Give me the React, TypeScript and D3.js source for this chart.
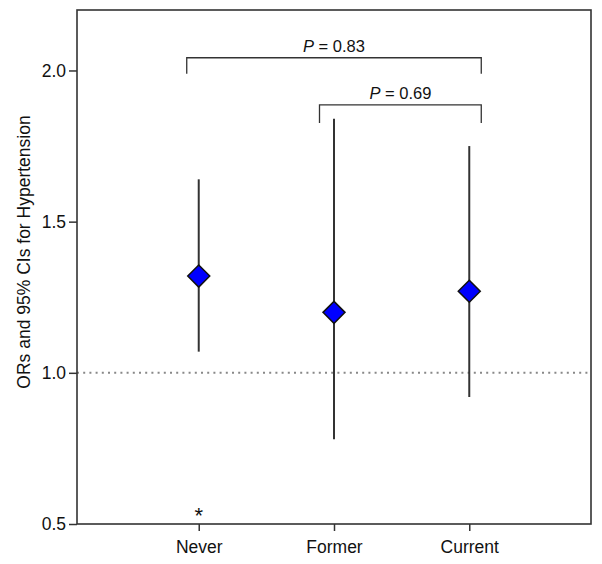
import React, { useEffect, useRef } from "react"
import * as d3 from "d3"

const categories = ["Never", "Former", "Current"]
const oddsRatios = [1.32, 1.2, 1.27]
const ciLow = [1.07, 0.78, 0.92]
const ciHigh = [1.64, 1.84, 1.75]
const yTicks = [0.5, 1.0, 1.5, 2.0]
const significant = [true, false, false]

// comparison brackets: from category, to category, level on y, label
const brackets = [
  { from: 0, to: 2, level: 2.042, p: "0.83", drop: 16 },
  { from: 1, to: 2, level: 1.886, p: "0.69", drop: 18 }
]

const W = 602
const H = 564
const margin = { top: 10, right: 11, bottom: 40, left: 77 }
const font = "'Liberation Sans', Arial, Helvetica, sans-serif"
const ink = "#333"

export default function App() {
  const xAxisRef = useRef<SVGGElement>(null)
  const yAxisRef = useRef<SVGGElement>(null)

  const x = d3.scaleLinear().domain([0.1, 3.9]).range([margin.left, W - margin.right])
  const y = d3.scaleLinear().domain([0.5, 2.2]).range([H - margin.bottom, margin.top])
  const xi = (i: number) => x(i + 1)

  useEffect(() => {
    const xa = d3.select(xAxisRef.current!)
    xa.call(
      d3.axisBottom(x)
        .tickValues([1, 2, 3])
        .tickFormat((d) => categories[(d as number) - 1])
        .tickSize(7)
        .tickPadding(10)
    )
    xa.select(".domain").remove()
    xa.selectAll(".tick line").attr("stroke", ink).attr("stroke-width", 1.5)
    xa.selectAll(".tick text").attr("font-size", 17.5).attr("font-family", font).attr("fill", "#111")

    const ya = d3.select(yAxisRef.current!)
    ya.call(d3.axisLeft(y).tickValues(yTicks).tickFormat(d3.format(".1f")).tickSize(8).tickPadding(3))
    ya.select(".domain").remove()
    ya.selectAll(".tick line").attr("stroke", ink).attr("stroke-width", 1.5)
    ya.selectAll(".tick text").attr("font-size", 17.5).attr("font-family", font).attr("fill", "#111")
  }, [])

  const d = 11
  return (
    <svg width={W} height={H} style={{ position: "absolute", left: 0, top: 0, background: "#fff" }}>
      <line
        x1={x(0.1)} x2={x(3.9)} y1={y(1)} y2={y(1)}
        stroke="#888" strokeWidth={2} strokeDasharray="2,4.2"
      />
      {categories.map((c, i) => (
        <g key={c}>
          <line x1={xi(i)} x2={xi(i)} y1={y(ciLow[i])} y2={y(ciHigh[i])} stroke={ink} strokeWidth={2} />
          <path
            d={`M${xi(i)},${y(oddsRatios[i]) - d}L${xi(i) + d},${y(oddsRatios[i])}L${xi(i)},${y(oddsRatios[i]) + d}L${xi(i) - d},${y(oddsRatios[i])}Z`}
            fill="#0000ff" stroke="#111" strokeWidth={1.5}
          />
          {significant[i] && (
            <text x={xi(i)} y={y(0.5) - 1} textAnchor="middle" fontSize={22} fontFamily={font} fill="#111">*</text>
          )}
        </g>
      ))}
      {brackets.map((b, k) => {
        const x1 = xi(b.from) - (b.from === 0 ? 12 : 14.5)
        const x2 = xi(b.to) + 12
        const yy = y(b.level)
        return (
          <g key={k}>
            <path
              d={`M${x1},${yy + b.drop}V${yy}H${x2}V${yy + b.drop}`}
              fill="none" stroke={ink} strokeWidth={1.3}
            />
            <text x={(x1 + x2) / 2} y={yy - 6} textAnchor="middle" fontSize={16.5} fontFamily={font} fill="#111">
              <tspan fontStyle="italic">P</tspan> = {b.p}
            </text>
          </g>
        )
      })}
      <rect
        x={margin.left} y={margin.top}
        width={W - margin.left - margin.right} height={H - margin.top - margin.bottom}
        fill="none" stroke={ink} strokeWidth={1.6}
      />
      <g ref={xAxisRef} transform={`translate(0,${H - margin.bottom})`} />
      <g ref={yAxisRef} transform={`translate(${margin.left},0)`} />
      <text
        transform={`translate(30,252) rotate(-90)`}
        textAnchor="middle" fontSize={17.5} fontFamily={font} fill="#111"
      >
        ORs and 95% CIs for Hypertension
      </text>
    </svg>
  )
}
